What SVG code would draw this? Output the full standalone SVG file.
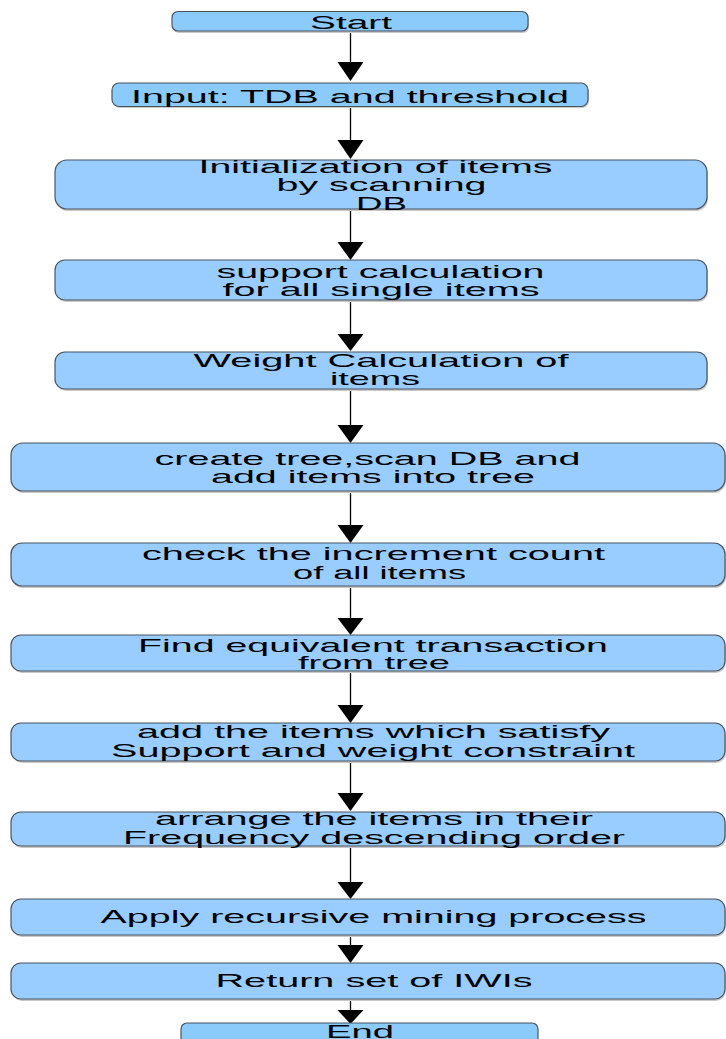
<svg xmlns="http://www.w3.org/2000/svg" width="726" height="1039" viewBox="0 0 726 1039">
<style>
.box{fill:#99ccff;stroke:#4a5560;stroke-width:1.2}
.term{fill:#8bcbfb;stroke:#4a5560;stroke-width:1.2}
.sh{fill:#c8c8c8}
text{font-family:"Liberation Sans",Arial,sans-serif;font-size:19px;fill:#000;text-anchor:middle}
.ln{stroke:#000;stroke-width:1.3;fill:none}
.ah{fill:#000}
</style>
<rect width="726" height="1039" fill="#fff"/>
<g id="connectors">
<line class="ln" x1="350.5" y1="31" x2="350.5" y2="64"/><polygon class="ah" points="337.5,62 363.5,62 350.5,81"/>
<line class="ln" x1="350.5" y1="107" x2="350.5" y2="142"/><polygon class="ah" points="337.5,140 363.5,140 350.5,159"/>
<line class="ln" x1="350.5" y1="209" x2="350.5" y2="244"/><polygon class="ah" points="337.5,242 363.5,242 350.5,260"/>
<line class="ln" x1="350.5" y1="300" x2="350.5" y2="336"/><polygon class="ah" points="337.5,334 363.5,334 350.5,351"/>
<line class="ln" x1="350.5" y1="389" x2="350.5" y2="427"/><polygon class="ah" points="337.5,425 363.5,425 350.5,443"/>
<line class="ln" x1="350.5" y1="491" x2="350.5" y2="527"/><polygon class="ah" points="337.5,525 363.5,525 350.5,543"/>
<line class="ln" x1="350.5" y1="586" x2="350.5" y2="620"/><polygon class="ah" points="337.5,618 363.5,618 350.5,635"/>
<line class="ln" x1="350.5" y1="671" x2="350.5" y2="707"/><polygon class="ah" points="337.5,705 363.5,705 350.5,723"/>
<line class="ln" x1="350.5" y1="761" x2="350.5" y2="795"/><polygon class="ah" points="337.5,793 363.5,793 350.5,811"/>
<line class="ln" x1="350.5" y1="846" x2="350.5" y2="884"/><polygon class="ah" points="337.5,882 363.5,882 350.5,899"/>
<line class="ln" x1="350.5" y1="936" x2="350.5" y2="947"/><polygon class="ah" points="337.5,945 363.5,945 350.5,963"/>
<line class="ln" x1="350.5" y1="1001" x2="350.5" y2="1012"/><polygon class="ah" points="337.5,1010 363.5,1010 350.5,1024"/>
</g>
<g id="n-start"><rect class="sh" x="173" y="13" width="356" height="20" rx="6"/><rect class="term" x="172" y="11.5" width="356" height="19.5" rx="6"/><text x="351" y="29" textLength="82" lengthAdjust="spacingAndGlyphs">Start</text></g>
<g id="n-input"><rect class="sh" x="113" y="85" width="476" height="23" rx="7"/><rect class="term" x="112" y="83" width="476" height="23.5" rx="7"/><text x="350" y="103" textLength="438" lengthAdjust="spacingAndGlyphs">Input: TDB and threshold</text></g>
<g id="n-init"><rect class="sh" x="56" y="162" width="652" height="49" rx="12"/><rect class="box" x="55" y="160" width="652" height="49" rx="12"/>
<text x="375.5" y="173" textLength="354" lengthAdjust="spacingAndGlyphs">Initialization of items</text>
<text x="381.5" y="191" textLength="210" lengthAdjust="spacingAndGlyphs">by scanning</text>
<text x="381.5" y="210" textLength="51" lengthAdjust="spacingAndGlyphs">DB</text></g>
<g id="n-support"><rect class="sh" x="56" y="262" width="652" height="40" rx="10"/><rect class="box" x="55" y="260" width="652" height="40" rx="10"/>
<text x="380.5" y="278" textLength="328" lengthAdjust="spacingAndGlyphs">support calculation</text>
<text x="381" y="296" textLength="317" lengthAdjust="spacingAndGlyphs">for all single items</text></g>
<g id="n-weight"><rect class="sh" x="56" y="354" width="652" height="37" rx="10"/><rect class="box" x="55" y="352" width="652" height="37" rx="10"/>
<text x="381" y="367" textLength="375" lengthAdjust="spacingAndGlyphs">Weight Calculation of</text>
<text x="375" y="385" textLength="90" lengthAdjust="spacingAndGlyphs">items</text></g>
<g id="n-create"><rect class="sh" x="12" y="445" width="714" height="48" rx="12"/><rect class="box" x="11" y="443" width="714" height="48" rx="12"/>
<text x="367.5" y="465" textLength="426" lengthAdjust="spacingAndGlyphs">create tree,scan DB and</text>
<text x="373" y="483" textLength="324" lengthAdjust="spacingAndGlyphs">add items into tree</text></g>
<g id="n-check"><rect class="sh" x="12" y="545" width="714" height="43" rx="11"/><rect class="box" x="11" y="543" width="714" height="43" rx="11"/>
<text x="373.5" y="560" textLength="463" lengthAdjust="spacingAndGlyphs">check the increment count</text>
<text x="379.5" y="579" textLength="173" lengthAdjust="spacingAndGlyphs">of all items</text></g>
<g id="n-find"><rect class="sh" x="12" y="637" width="714" height="36" rx="10"/><rect class="box" x="11" y="635" width="714" height="36" rx="10"/>
<text x="373" y="652" textLength="470" lengthAdjust="spacingAndGlyphs">Find equivalent transaction</text>
<text x="374" y="669" textLength="152" lengthAdjust="spacingAndGlyphs">from tree</text></g>
<g id="n-add"><rect class="sh" x="12" y="725" width="714" height="38" rx="10"/><rect class="box" x="11" y="723" width="714" height="38" rx="10"/>
<text x="373.5" y="738" textLength="473" lengthAdjust="spacingAndGlyphs">add the items which satisfy</text>
<text x="373" y="757" textLength="524" lengthAdjust="spacingAndGlyphs">Support and weight constraint</text></g>
<g id="n-arrange"><rect class="sh" x="12" y="814" width="714" height="34" rx="10"/><rect class="box" x="11" y="812" width="714" height="34" rx="10"/>
<text x="374" y="825" textLength="438" lengthAdjust="spacingAndGlyphs">arrange the items in their</text>
<text x="374" y="844" textLength="502" lengthAdjust="spacingAndGlyphs">Frequency descending order</text></g>
<g id="n-apply"><rect class="sh" x="12" y="901" width="714" height="36" rx="10"/><rect class="box" x="11" y="899" width="714" height="36" rx="10"/>
<text x="373.5" y="923" textLength="546" lengthAdjust="spacingAndGlyphs">Apply recursive mining process</text></g>
<g id="n-return"><rect class="sh" x="12" y="965" width="714" height="36" rx="10"/><rect class="box" x="11" y="963" width="714" height="36" rx="10"/>
<text x="374" y="987" textLength="317" lengthAdjust="spacingAndGlyphs">Return set of IWIs</text></g>
<g id="n-end"><rect class="term" x="181" y="1023" width="357" height="24" rx="6"/><text x="360" y="1037.5" textLength="68" lengthAdjust="spacingAndGlyphs">End</text></g>
</svg>
